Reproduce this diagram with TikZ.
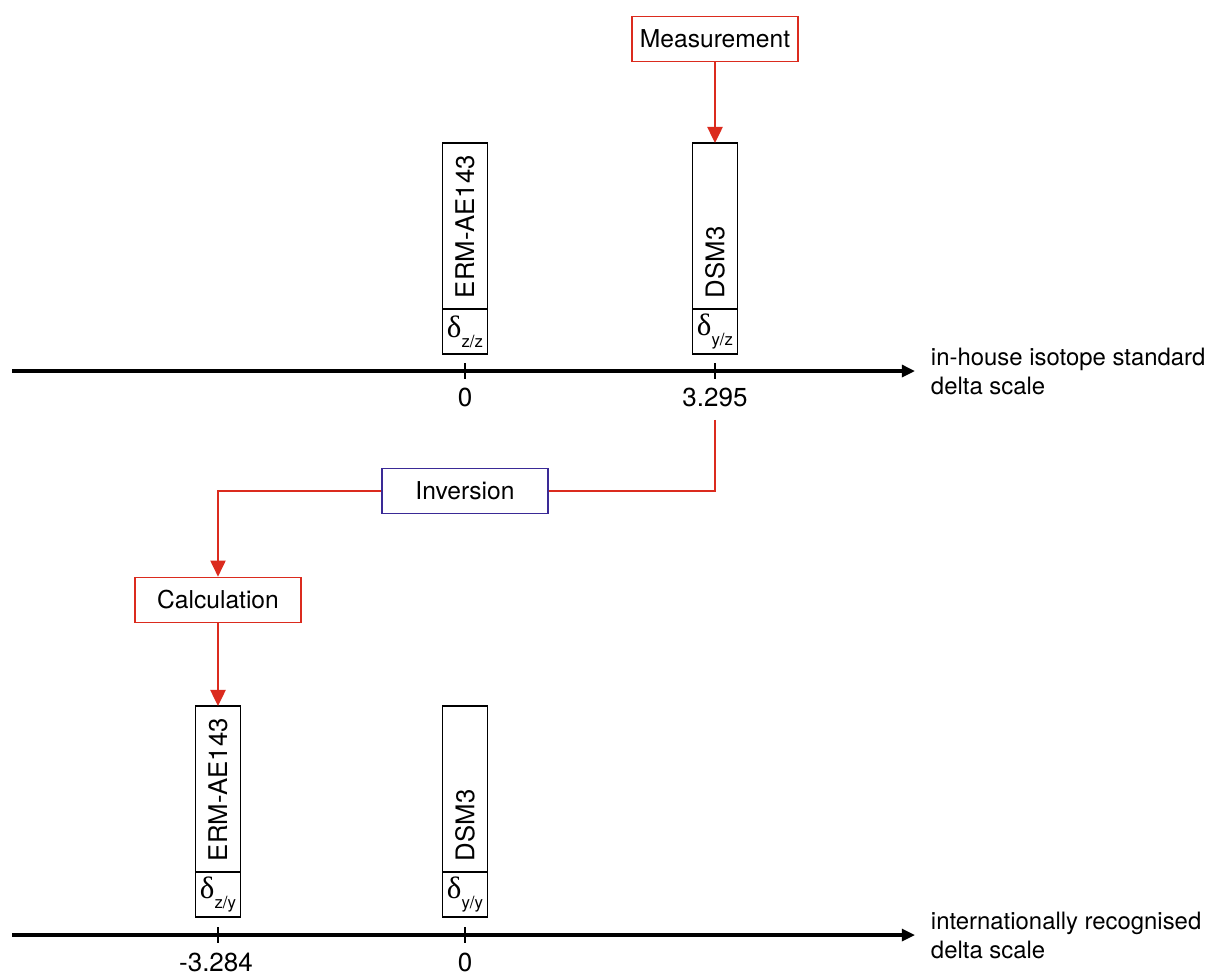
\documentclass[tikz,border=0pt]{standalone}
\usepackage{fontspec}
\setmainfont{TeX Gyre Heros}
\newfontfamily\grk{Liberation Serif}
\usetikzlibrary{positioning, arrows.meta, calc}
\definecolor{procred}{RGB}{219,43,30}
\definecolor{invblue}{RGB}{58,42,150}
\newcommand{\Dlt}[1]{{\grk\fontsize{22}{22}\selectfont δ}\raisebox{-0.75ex}{\fontsize{12}{12}\selectfont #1}}
\newcommand{\Smp}[1]{\rotatebox{90}{\makebox[3.6cm][l]{\fontsize{18.3}{21}\selectfont #1}}}
\tikzset{
    sample/.style={draw, line width=0.9pt, minimum width=1.125cm, minimum height=4.15cm, inner sep=0pt, outer sep=0pt},
    dbox/.style={draw, line width=0.9pt, minimum width=1.125cm, minimum height=1.125cm, inner sep=0pt, outer sep=0pt},
    proc/.style={draw=procred, line width=1.2pt, minimum width=4.15cm, minimum height=1.125cm},
    axis/.style={line width=2.2pt, -{Triangle[length=0.33cm, width=0.3cm]}},
    tick/.style={line width=1.6pt},
    ticklabel/.style={font=\fontsize{18.5}{21}\selectfont},
    scalelabel/.style={anchor=west, align=left, font=\fontsize{17}{20.6}\selectfont},
    flow/.style={draw=procred, line width=1.3pt, -{Triangle[length=0.4cm, width=0.38cm]}},
    every node/.append style={font=\fontsize{17.5}{21}\selectfont},
}

\begin{document}
\begin{tikzpicture}[x=0.025cm, y=-0.025cm]
    \useasboundingbox (0,0) rectangle (1215,976);

    % in-house scale
    \coordinate (a1w) at (12,371);
    \coordinate (a1e) at (915,371);
    \draw[axis] (a1w) -- (a1e);
    \foreach \x in {465,715}
      \draw[tick] (\x,363) -- (\x,379);
    \node[scalelabel] (s1) at (926,371) {in-house isotope standard\\delta scale};
    \node[ticklabel] (t1a) at (465,397) {0};
    \node[ticklabel] (t1b) at (715,397) {3.295};

    \node[sample] (ermA) at (465,226) {\Smp{ERM-AE143}};
    \node[dbox, below=0pt of ermA] (dA1) {\Dlt{z/z}};
    \node[sample] (dsmA) at (715,226) {\Smp{DSM3}};
    \node[dbox, below=0pt of dsmA] (dA2) {\Dlt{y/z}};

    \node[proc] (meas) at (715,39) {Measurement};
    \draw (meas) edge[flow] (dsmA);

    % international scale
    \coordinate (a2w) at (12,935);
    \coordinate (a2e) at (915,935);
    \draw[axis] (a2w) -- (a2e);
    \foreach \x in {218,465}
      \draw[tick] (\x,927) -- (\x,943);
    \node[scalelabel] (s2) at (926,935) {internationally recognised\\delta scale};
    \node[ticklabel] (t2a) at (216,962) {-3.284};
    \node[ticklabel] (t2b) at (465,962) {0};

    \node[sample] (ermB) at (218,789) {\Smp{ERM-AE143}};
    \node[dbox, below=0pt of ermB] (dB1) {\Dlt{z/y}};
    \node[sample] (dsmB) at (465,789) {\Smp{DSM3}};
    \node[dbox, below=0pt of dsmB] (dB2) {\Dlt{y/y}};

    % conversion
    \node[proc, draw=invblue] (inv) at (465,491) {Inversion};
    \node[proc] (calc) at (218,600) {Calculation};
    \draw[procred, line width=0.9pt, shorten <=6pt] (t1b.south) |- (inv.east);
    \draw[flow, line width=0.9pt] (inv.west) -| (calc.north);
    \draw (calc) edge[flow] (ermB);
\end{tikzpicture}
\end{document}
